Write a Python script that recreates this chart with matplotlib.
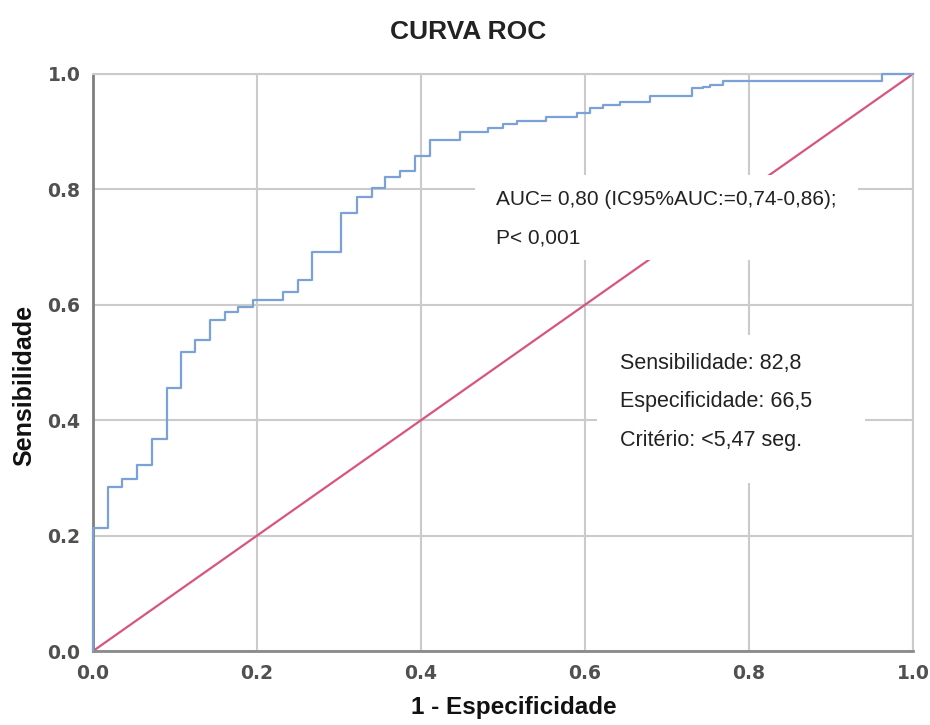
import matplotlib.pyplot as plt
from matplotlib.patches import Rectangle

# ROC curve vertices (1 - especificidade, sensibilidade)
fpr = [0.0, 0.0, 0.018, 0.035, 0.054, 0.072, 0.090, 0.107, 0.124, 0.143,
       0.161, 0.177, 0.195, 0.232, 0.250, 0.267, 0.303, 0.322, 0.340, 0.356,
       0.374, 0.393, 0.411, 0.448, 0.482, 0.500, 0.517, 0.553, 0.590, 0.606,
       0.622, 0.643, 0.679, 0.730, 0.744, 0.752, 0.768, 0.962, 1.0]
tpr = [0.0, 0.214, 0.284, 0.298, 0.322, 0.367, 0.456, 0.519, 0.539, 0.574,
       0.588, 0.597, 0.608, 0.623, 0.643, 0.692, 0.759, 0.787, 0.802, 0.822,
       0.831, 0.857, 0.886, 0.900, 0.906, 0.913, 0.919, 0.926, 0.933, 0.941,
       0.946, 0.952, 0.961, 0.975, 0.977, 0.981, 0.988, 1.0, 1.0]
ref_line = [0.0, 1.0]

ticks = [0.0, 0.2, 0.4, 0.6, 0.8, 1.0]
tick_labels = ['0.0', '0.2', '0.4', '0.6', '0.8', '1.0']

title = 'CURVA ROC'
auc_text = 'AUC= 0,80 (IC95%AUC:=0,74-0,86);'
p_text = 'P< 0,001'
stats_lines = ['Sensibilidade: 82,8', 'Especificidade: 66,5', 'Critério: <5,47 seg.']

fig = plt.figure(figsize=(9.3, 7.25), dpi=100, facecolor='white')
ax = fig.add_axes([0.1, 0.102, 0.8817, 0.796])

ax.set_xlim(0, 1)
ax.set_ylim(0, 1)
ax.set_xticks(ticks)
ax.set_yticks(ticks)
tick_font = dict(fontsize=13.5, color='#505050', family='DejaVu Sans', fontweight='bold')
ax.set_xticklabels(tick_labels, **tick_font)
ax.set_yticklabels(tick_labels, **tick_font)
ax.tick_params(axis='x', length=0, pad=9)
ax.tick_params(axis='y', length=0, pad=9)

# grid and frame
ax.grid(True, color='#cbcbcb', linewidth=1.5, zorder=0)
ax.set_axisbelow(True)
for side in ['top', 'right']:
    ax.spines[side].set_color('#cbcbcb')
    ax.spines[side].set_linewidth(1.5)
ax.spines['left'].set_color('#7f7f7f')
ax.spines['left'].set_linewidth(2)
ax.spines['bottom'].set_color('#8a8a8a')
ax.spines['bottom'].set_linewidth(2)

# curves
ax.plot(ref_line, ref_line, color='#d9557b', linewidth=1.6, zorder=2)
ax.plot(fpr, tpr, drawstyle='steps-post', color='#7ba2d8', linewidth=1.6,
        zorder=4, clip_on=False)

# white annotation boxes (they cut the grid and the reference line)
ax.add_patch(Rectangle((0.466, 0.678), 0.467, 0.147, facecolor='white',
                       edgecolor='none', zorder=3))
ax.add_patch(Rectangle((0.615, 0.291), 0.326, 0.257, facecolor='white',
                       edgecolor='none', zorder=3))

txt = dict(family='Liberation Sans', color='#222222', zorder=5,
           va='center', ha='left')
ax.text(0.491, 0.782, auc_text, fontsize=15, **txt)
ax.text(0.491, 0.716, p_text, fontsize=15, **txt)
for i, line in enumerate(stats_lines):
    ax.text(0.643, 0.499 - i * 0.067, line, fontsize=15.5, **txt)

ax.set_xlabel('1 - Especificidade', fontsize=17.5, fontweight='bold',
              family='Liberation Sans', color='#111111')
ax.xaxis.set_label_coords(0.513, -0.078)
ax.set_ylabel('Sensibilidade', fontsize=18, fontweight='bold',
              family='Liberation Sans', color='#111111')
ax.yaxis.set_label_coords(-0.069, 0.46)

fig.text(0.503, 0.956, title, ha='center', va='center', fontsize=19,
         fontweight='bold', family='Liberation Sans', color='#222222')

fig.savefig('out.png', dpi=100, facecolor='white')
